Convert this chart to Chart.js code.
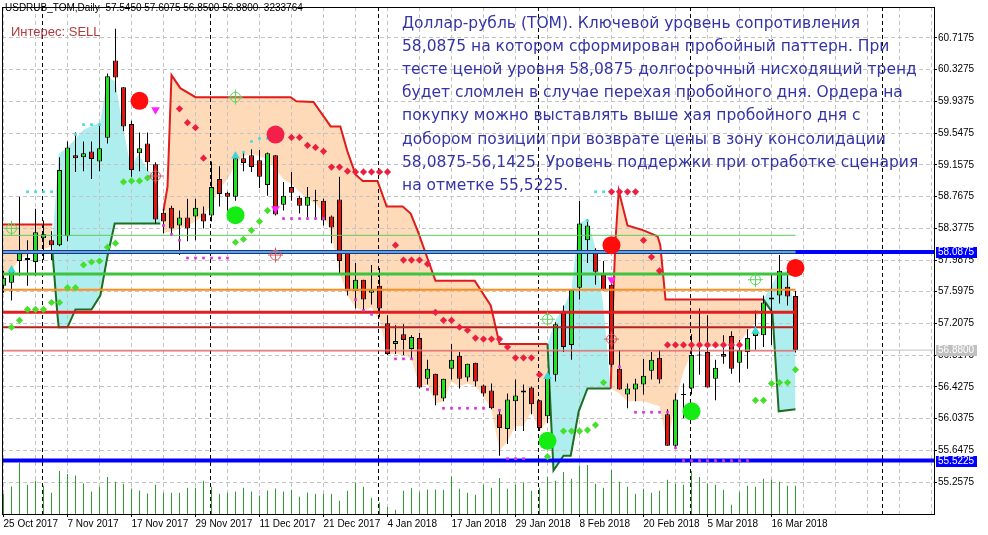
<!DOCTYPE html>
<html lang="ru">
<head>
<meta charset="utf-8">
<title>USDRUB_TOM, Daily</title>
<script src="https://cdn.jsdelivr.net/npm/chart.js@4.4.0/dist/chart.umd.min.js"></script>
<style>
  html, body { margin: 0; padding: 0; background: #fff; }
  #chart { display: block; }
</style>
</head>
<body>
<canvas id="chart" width="988" height="535"></canvas>
<script>
// --- ось времени: подпись на каждом 8-м баре ---
const dateLabels = ['25 Oct 2017', '7 Nov 2017', '17 Nov 2017', '29 Nov 2017', '11 Dec 2017', '21 Dec 2017',
  '4 Jan 2018', '17 Jan 2018', '29 Jan 2018', '8 Feb 2018', '20 Feb 2018', '5 Mar 2018', '16 Mar 2018'];
const monthStarts = [5, 26, 47, 67, 86, 110];
const priceTicks = [55.2575, 55.6475, 56.0375, 56.4275, 56.8175, 57.2075, 57.5975, 57.9875,
  58.3775, 58.7675, 59.1575, 59.5475, 59.9375, 60.3275, 60.7175];

// --- свечи ---
const opens = [57.672, 57.708, 57.975, 58.012, 57.963, 58.255, 58.23, 58.17, 58.279, 59.275,
  59.25, 59.32, 59.20, 59.49, 60.44, 60.11, 59.66, 59.30, 59.42, 59.166,
  58.57, 58.631, 58.412, 58.51, 58.522, 58.559, 58.534, 58.984, 58.814, 58.765,
  59.24, 59.275, 59.215, 58.91, 59.275, 58.668, 58.886, 58.753, 58.656, 58.716,
  58.716, 58.522, 58.73, 58.085, 57.611, 57.745, 57.586, 57.672, 57.21, 56.955,
  57.076, 56.894, 57.028, 56.529, 56.59, 56.286, 56.651, 56.809, 56.542, 56.724,
  56.444, 56.384, 56.092, 55.91, 56.25, 56.359, 56.42, 56.262, 56.068, 56.578,
  57.356, 56.943, 57.647, 58.23, 58.072, 57.805, 57.684, 56.651, 56.335, 56.396,
  56.457, 56.627, 56.785, 56.092, 55.703, 56.335, 56.408, 56.821, 56.858, 56.529,
  56.833, 57.052, 56.724, 56.858, 57.052, 57.064, 57.526, 57.55, 57.66, 57.545];
const highs = [57.854, 57.914, 58.765, 58.23, 58.619, 58.473, 58.34, 59.25, 59.445, 59.555,
  59.445, 59.445, 59.65, 60.28, 60.83, 60.11, 59.70, 59.555, 59.555, 59.19,
  58.619, 58.656, 58.595, 58.74, 58.74, 58.644, 59.20, 59.14, 58.826, 59.29,
  59.32, 59.35, 59.34, 59.31, 59.275, 58.947, 59.07, 58.777, 58.886, 58.85,
  58.74, 58.534, 59.01, 58.085, 57.951, 57.745, 57.927, 57.89, 57.307, 57.186,
  57.198, 57.064, 57.089, 56.76, 56.59, 56.529, 56.955, 56.858, 56.712, 56.724,
  56.457, 56.469, 56.153, 56.347, 56.517, 56.457, 56.432, 56.262, 56.59, 57.222,
  57.429, 57.623, 58.716, 58.485, 58.133, 57.975, 57.708, 56.882, 56.469, 56.529,
  56.772, 56.858, 56.882, 56.153, 56.347, 56.469, 57.076, 57.392, 57.307, 56.76,
  57.064, 57.113, 57.003, 57.137, 57.368, 57.55, 57.805, 58.048, 57.866, 57.6075];
const lows = [57.586, 57.489, 57.793, 57.672, 57.793, 57.987, 57.987, 58.157, 58.218, 59.07,
  59.08, 58.984, 59.08, 59.42, 60.05, 59.57, 59.01, 59.08, 59.08, 58.437,
  58.316, 58.316, 58.048, 58.218, 58.23, 58.376, 58.461, 58.644, 58.595, 58.716,
  59.08, 59.07, 58.874, 58.777, 58.534, 58.595, 58.716, 58.559, 58.51, 58.497,
  58.412, 58.194, 57.805, 57.55, 57.392, 57.368, 57.44, 57.283, 56.821, 56.833,
  56.821, 56.772, 56.408, 56.457, 56.201, 56.25, 56.517, 56.408, 56.493, 56.432,
  56.31, 56.153, 55.582, 55.727, 55.885, 55.885, 56.092, 55.885, 55.983, 56.493,
  56.858, 56.76, 57.501, 57.951, 57.684, 57.611, 56.675, 56.396, 56.165, 56.25,
  56.335, 56.517, 56.469, 55.703, 55.667, 56.043, 56.335, 56.578, 56.42, 56.262,
  56.712, 56.59, 56.481, 56.651, 56.882, 56.918, 56.943, 57.453, 57.429, 56.85];
const closes = [57.769, 57.854, 58.072, 57.987, 58.328, 58.303, 58.17, 59.093, 59.37, 59.24,
  59.30, 59.23, 59.36, 60.247, 60.23, 59.63, 59.093, 59.36, 59.19, 58.485,
  58.461, 58.376, 58.51, 58.376, 58.631, 58.461, 58.886, 58.80, 58.765, 59.24,
  59.18, 59.13, 59.01, 59.30, 58.546, 58.777, 58.814, 58.656, 58.765, 58.716,
  58.473, 58.388, 57.975, 57.611, 57.745, 57.501, 57.623, 57.392, 56.833, 56.991,
  57.003, 57.04, 56.42, 56.651, 56.323, 56.529, 56.76, 56.529, 56.712, 56.493,
  56.347, 56.165, 55.922, 56.274, 56.323, 56.384, 56.214, 55.922, 56.566, 57.198,
  56.918, 57.623, 58.437, 58.412, 57.842, 57.623, 56.70, 56.396, 56.408, 56.469,
  56.566, 56.76, 56.517, 55.703, 56.274, 56.335, 56.821, 56.821, 56.42, 56.663,
  56.797, 56.651, 56.882, 57.028, 57.125, 57.465, 57.501, 57.854, 57.538, 56.88];
// тиковый объём (относительные единицы)
const volumes = [60, 83, 155, 88, 100, 85, 64, 130, 121, 116,
  92, 68, 82, 112, 97, 91, 77, 71, 62, 88,
  64, 64, 64, 79, 79, 100, 82, 61, 64, 68,
  79, 68, 56, 71, 77, 68, 73, 52, 65, 61,
  61, 61, 40, 70, 94, 82, 49, 35, 21, 13,
  70, 78, 67, 74, 74, 73, 113, 76, 64, 58,
  88, 79, 109, 76, 88, 94, 70, 79, 112, 100,
  127, 106, 145, 148, 91, 79, 133, 97, 82, 61,
  76, 64, 70, 103, 91, 88, 130, 112, 91, 88,
  73, 28, 67, 85, 82, 106, 103, 97, 85, 85];

// --- индикатор: линии стопа [бар, цена] и границы заливки ---
const sellStopA = [[-0.1875, 58.425], [6.1, 58.425]];
const sellEdgeA = [[-0.1875, 57.817], [1, 57.86], [2, 58.0], [4, 58.1], [6.1, 58.15]];
const buyStopB = [[6.1, 58.109], [6.75, 57.307], [6.9, 57.16], [8.0, 57.16], [9.0, 57.38], [11.0, 57.38],
  [12.1, 57.55], [13.0, 58.036], [13.9, 58.437], [19.6, 58.437]];
const buyEdgeB = [[6.1, 58.2], [6.9, 59.29], [8.0, 59.37], [10.0, 59.59], [12.1, 59.68], [13.0, 60.24],
  [14.0, 60.18], [14.8, 59.69], [15.9, 59.13], [16.9, 59.29], [18.0, 59.09], [19.0, 59.03], [19.6, 58.44]];
const sellStopC = [[20.0, 58.595], [20.5, 58.886], [21.0, 60.26], [21.25, 60.223], [22.1, 60.10], [24.0, 59.99],
  [35.9, 59.99], [36.6, 59.94], [38.75, 59.93], [40.9, 59.63], [42.1, 59.63], [43.0, 59.32], [44.0, 59.04],
  [44.9, 58.96], [46.75, 58.96], [47.9, 58.644], [49.9, 58.644], [50.9, 58.559], [51.75, 58.352],
  [54.0, 57.732], [58.9, 57.732], [60.9, 57.429], [61.75, 57.064], [62.0, 56.955], [68.0, 56.955]];
const sellEdgeC = [[20, 58.316], [21, 58.34], [22, 58.376], [23, 58.412], [24, 58.461], [25, 58.534],
  [26, 58.68], [27, 58.862], [28, 58.984], [29, 59.166], [30, 59.263], [31, 59.29], [32, 59.263],
  [33, 59.227], [34, 59.105], [35, 58.984], [36, 58.923], [37, 58.826], [38, 58.74], [39, 58.68],
  [40, 58.559], [41, 58.3], [42, 57.83], [43, 57.55], [44, 57.404], [45, 57.368], [46, 57.404],
  [47, 57.247], [48, 56.833], [49, 56.833], [50, 56.821], [51, 56.772], [52, 56.432], [53, 56.457],
  [54, 56.226], [55, 56.25], [56, 56.493], [57, 56.432], [58, 56.469], [59, 56.432], [60, 56.31],
  [61, 56.153], [62, 55.642], [63, 55.76], [64, 55.946], [65, 55.946], [66, 56.128], [67, 55.885], [68, 56.007]];
const buyStopD = [[68.0, 56.955], [68.75, 55.40], [70.0, 55.582], [70.9, 55.582], [71.9, 56.128],
  [73.0, 56.408], [75.9, 56.408]];
const buyEdgeD = [[68.0, 56.955], [69, 57.246], [70, 57.404], [71, 57.623], [71.9, 58.437], [73, 58.497],
  [74, 58.133], [75, 57.404], [75.9, 56.408]];
const sellStopE = [[75.9, 56.408], [76.25, 57.623], [76.5, 58.23], [76.9, 58.838], [78.0, 58.412],
  [80.0, 58.352], [81.75, 58.279], [82.1, 58.17], [82.75, 57.501], [95.0, 57.501]];
const sellEdgeE = [[75.9, 56.408], [77, 56.347], [78, 56.25], [80, 56.25], [82, 56.189], [83, 55.703],
  [84, 56.25], [85, 56.614], [86, 56.858], [87, 56.918], [90, 56.918], [92, 56.979], [94, 57.222], [95, 57.501]];
const buyStopF = [[95.0, 57.501], [96.1, 57.344], [96.25, 57.137], [96.9, 56.128], [99.0, 56.153]];
const buyEdgeF = [[95.0, 57.501], [96.9, 57.83], [98, 57.854], [98.75, 57.45], [99, 57.3]];

// --- значки индикаторов [бар, цена] ---
const redDiamonds = [[22, 59.846], [23, 59.676], [24, 59.615], [25, 59.239],
  [36, 59.494], [37, 59.494], [38, 59.397], [39, 59.372], [40, 59.324], [41, 59.13], [42, 59.13],
  [43, 59.08], [44, 59.07], [45, 59.07], [46, 59.07], [47, 59.07], [48, 59.07],
  [49, 58.17], [50, 57.987], [51, 57.987], [52, 57.987], [53, 57.939], [54, 57.344], [55, 57.246],
  [56, 57.246], [57, 57.161], [58, 57.125], [59, 57.028], [60, 57.015], [61, 57.015], [62, 57.015],
  [63, 56.918], [64, 56.785], [65, 56.785], [66, 56.785], [67, 56.578],
  [76, 58.826], [77, 58.826], [78, 58.826], [79, 58.826], [80, 58.23], [81, 58.024], [82, 57.854],
  [83, 56.943], [84, 56.943], [85, 56.943], [86, 56.943], [87, 56.943], [88, 56.943], [89, 56.943],
  [90, 56.943], [91, 56.943], [92, 56.943]];
const greenDiamonds = [[1, 57.161], [2, 57.246], [3, 57.38], [4, 57.38], [5, 57.38], [6, 57.465],
  [7, 57.465], [8, 57.647], [9, 57.647], [10, 57.927], [11, 57.963], [12, 57.975], [13, 58.145],
  [14, 58.194], [15, 58.947], [16, 58.96], [17, 58.96], [18, 58.996],
  [29, 58.206], [30, 58.243], [31, 58.352], [32, 58.461], [33, 58.595],
  [68, 55.57], [70, 55.885], [71, 55.885], [72, 55.885], [73, 55.897], [74, 55.958], [75, 56.481],
  [94, 56.262], [95, 56.262], [96, 56.469], [97, 56.481], [98, 56.481], [99, 56.639]];
const magentaDots = [[20, 58.412], [21, 58.303], [22, 58.23], [23, 58.012], [24, 58.012], [25, 58.012],
  [26, 58.012], [27, 58.012], [28, 58.012],
  [35, 58.497], [36, 58.497], [37, 58.497], [38, 58.497], [39, 58.497], [40, 58.497],
  [44, 57.501], [45, 57.368], [46, 57.32], [49, 56.772], [50, 56.772], [51, 56.772], [53, 56.396],
  [55, 56.165], [56, 56.165], [57, 56.165], [58, 56.165], [59, 56.165], [60, 56.165], [62, 56.141],
  [63, 55.545], [64, 55.545], [65, 55.545],
  [77, 56.675], [79, 56.116], [80, 56.116], [81, 56.116], [82, 56.116], [83, 56.116], [84, 55.679],
  [85, 55.521], [86, 55.521], [87, 55.521], [88, 55.521], [89, 55.521], [90, 55.521], [91, 55.521],
  [92, 55.521], [93, 55.521]];
const cyanDots = [[3, 58.826], [4, 58.826], [5, 58.826], [6, 58.826], [9, 59.53], [10, 59.652],
  [11, 59.652], [12, 59.652], [30, 59.312], [31, 59.445], [32, 59.482], [33, 59.482],
  [73, 58.473], [74, 58.826], [75, 58.826]];
const sellSignals = [[17, 59.944], [34, 59.53], [76, 58.17], [99, 57.89]];
const buySignals = [[29, 58.538], [68, 55.764], [86, 56.128]];
const downArrows = [[19, 59.834], [34, 58.619], [76, 57.745]];
const upArrows = [[1, 57.866], [29, 59.267], [68, 56.554], [94, 57.113]];
const buyTargets = [[1, 58.376], [29, 59.99], [68, 57.259], [94, 57.745]];
const sellTargets = [[19, 59.02], [34, 58.048], [76, 57.015]];

// --- горизонтальные уровни ---
const levelPrices  = [58.291, 58.0875, 58.0875, 58.0875, 57.817, 57.623, 57.344, 57.161, 56.88, 56.87, 55.5225];
const levelLastBar = [99,     null,    99,      99,      99,     99,     99,     99,     null,  99,    null];
const priceFlags = [58.0875, 56.88, 55.5225];

const headerText = 'USDRUB_TOM,Daily  57.5450 57.6075 56.8500 56.8800  3233764';
const interestText = 'Интерес: SELL';
const noteLines = [
  'Доллар-рубль (ТОМ). Ключевой уровень сопротивления',
  '58,0875 на котором сформирован пробойный паттерн. При',
  'тесте ценой уровня 58,0875 долгосрочный нисходящий тренд',
  'будет сломлен в случае перехая пробойного дня. Ордера на',
  'покупку можно выставлять выше хая пробойного дня с',
  'добором позиции при возврате цены в зону консолидации',
  '58,0875-56,1425. Уровень поддержки при отработке сценария',
  'на отметке 55,5225.'
];

// --- оформление ---
const X_MIN = -0.1875, X_MAX = 116.3125;
const Y_MIN = 54.865, Y_MAX = 61.098;
const VOL_MAX = 1530;
const BULL = '#1fe31f', BEAR = '#e3140e';
const PEACH = '#ffdab9', TURQ = '#afeeee';
const levelStyles = [['#5ccc5c', 1], ['#0000ff', 4], ['#20387a', 4], ['#5aa5e8', 2], ['#3cc43c', 3],
  ['#ff8c1a', 2], ['#e31e1e', 3], ['#b52222', 2], ['#c0c0c0', 1], ['#f04848', 1], ['#0000ff', 4]];
const flagColors = ['#0000ff', '#c0c0c0', '#0000ff'];
const signalColors = ['#ff0d0d', '#f2204a', '#ff0d0d', '#ff0d0d'];
const AXIS_FONT = '10px "Liberation Sans"';

const pts = arr => arr.map(([x, y]) => ({ x, y }));
const bars = opens.map((_, i) => i);
const isDoji = i => Math.abs(opens[i] - closes[i]) < 0.005;

const datasets = [];

function addBand(stop, edge, lineColor, fillColor) {
  datasets.push({ type: 'line', data: pts(stop), borderColor: lineColor, borderWidth: 2,
    pointRadius: 0, tension: 0, fill: false, order: 80 });
  const target = datasets.length - 1;
  datasets.push({ type: 'line', data: pts(edge), borderColor: 'rgba(0,0,0,0)', borderWidth: 1,
    pointRadius: 0, tension: 0, backgroundColor: fillColor, fill: target, order: 100 });
}
addBand(sellStopA, sellEdgeA, '#e01b1b', PEACH);
addBand(buyStopB, buyEdgeB, '#1c6e22', TURQ);
addBand(sellStopC, sellEdgeC, '#e01b1b', PEACH);
addBand(buyStopD, buyEdgeD, '#1c6e22', TURQ);
addBand(sellStopE, sellEdgeE, '#e01b1b', PEACH);
addBand(buyStopF, buyEdgeF, '#1c6e22', TURQ);

// объём
datasets.push({ type: 'bar', yAxisID: 'yv', data: bars.map(i => ({ x: i, y: volumes[i] })),
  backgroundColor: '#2e9e2e', borderWidth: 0, barThickness: 1, grouped: false, inflateAmount: 0,
  order: 90, regrid: true });

// тени и тела свечей
datasets.push({ type: 'bar', data: bars.map(i => ({ x: i, y: [lows[i], highs[i]] })),
  backgroundColor: '#000', barThickness: 1, grouped: false, inflateAmount: 0, order: 70 });
datasets.push({ type: 'bar',
  data: bars.map(i => ({ x: i, y: isDoji(i) ? [opens[i] - 0.006, opens[i] + 0.006] : [opens[i], closes[i]] })),
  backgroundColor: bars.map(i => isDoji(i) ? '#000' : (closes[i] > opens[i] ? BULL : BEAR)),
  borderColor: '#000', borderWidth: 1, borderSkipped: false, barThickness: 5,
  grouped: false, inflateAmount: 0, order: 60 });

// уровни
levelPrices.forEach((p, k) => {
  datasets.push({ type: 'line', data: [{ x: X_MIN, y: p }, { x: levelLastBar[k] ?? X_MAX, y: p }],
    borderColor: levelStyles[k][0], borderWidth: levelStyles[k][1], pointRadius: 0, fill: false, order: 50 - k * 0.1 });
});

function addMarks(arr, style, radius, fill, stroke, width, order, rotation) {
  datasets.push({ type: 'line', showLine: false, data: pts(arr), pointStyle: style, pointRadius: radius,
    pointRotation: rotation || 0, pointBackgroundColor: fill, pointBorderColor: stroke,
    pointBorderWidth: width, order });
}
addMarks(magentaDots, 'rect', 1.9, '#dd33dd', '#dd33dd', 0, 30);
addMarks(cyanDots, 'rect', 1.9, '#3fdede', '#3fdede', 0, 30);
addMarks(redDiamonds, 'rectRot', 3.6, '#ec1f40', '#ec1f40', 0, 29);
addMarks(greenDiamonds, 'rectRot', 3.6, '#44e02c', '#44e02c', 0, 29);
addMarks(buyTargets, 'circle', 5, 'rgba(0,0,0,0)', '#5ed35e', 1, 25);
addMarks(buyTargets, 'cross', 7.5, 'rgba(0,0,0,0)', '#5ed35e', 1, 25);
addMarks(sellTargets, 'circle', 5, 'rgba(0,0,0,0)', '#dc5a5a', 1, 25);
addMarks(sellTargets, 'cross', 7.5, 'rgba(0,0,0,0)', '#dc5a5a', 1, 25);
addMarks(downArrows, 'triangle', 5, '#ff22ff', '#ff22ff', 0, 24, 180);
addMarks(upArrows, 'triangle', 5, '#3ad8d8', '#3ad8d8', 0, 24);
addMarks(sellSignals, 'circle', 9, signalColors, signalColors, 0, 20);
addMarks(buySignals, 'circle', 9, '#14ec14', '#14ec14', 0, 20);

const overlay = {
  id: 'overlay',
  // сетка и разделители периодов поверх заливки
  beforeDatasetDraw(chart, args) {
    if (!chart.data.datasets[args.index].regrid) return;
    const { ctx, chartArea: a, scales } = chart;
    scales.x.drawGrid(a);
    scales.y.drawGrid(a);
    ctx.save();
    ctx.strokeStyle = '#000';
    ctx.lineWidth = 1;
    ctx.setLineDash([4, 3]);
    monthStarts.forEach(m => {
      const x = Math.floor(scales.x.getPixelForValue(m - 0.125)) + 0.5;
      ctx.beginPath();
      ctx.moveTo(x, a.top);
      ctx.lineTo(x, a.bottom);
      ctx.stroke();
    });
    ctx.restore();
  },
  afterDraw(chart) {
    const { ctx, chartArea: a, scales: { y } } = chart;
    ctx.save();
    ctx.strokeStyle = '#000';
    ctx.lineWidth = 1;
    ctx.strokeRect(a.left + 0.5, a.top + 0.5, a.right - a.left, a.bottom - a.top);

    ctx.font = AXIS_FONT;
    ctx.textAlign = 'left';
    ctx.textBaseline = 'middle';
    priceFlags.forEach((p, k) => {
      const py = Math.round(y.getPixelForValue(p));
      ctx.fillStyle = flagColors[k];
      ctx.fillRect(a.right + 2, py - 5, 41, 11);
      ctx.fillStyle = '#fff';
      ctx.fillText(p.toFixed(4), a.right + 4, py + 0.5);
    });

    ctx.fillStyle = '#000';
    ctx.fillText(headerText, 5, 8);
    ctx.font = '13px "Liberation Sans"';
    ctx.fillStyle = '#b23c3c';
    ctx.fillText(interestText, 11, 32);

    ctx.font = '15.5px "DejaVu Sans"';
    ctx.fillStyle = '#3434a6';
    noteLines.forEach((t, k) => ctx.fillText(t, 402, 24 + k * 23.1));
    ctx.restore();
  }
};

new Chart(document.getElementById('chart').getContext('2d'), {
  type: 'bar',
  data: { datasets },
  options: {
    responsive: false,
    animation: false,
    events: [],
    devicePixelRatio: 1,
    layout: { autoPadding: false, padding: { left: 2, top: 1, right: 0, bottom: 0 } },
    plugins: { legend: { display: false }, tooltip: { enabled: false } },
    scales: {
      x: {
        type: 'linear', min: X_MIN, max: X_MAX, offset: false,
        afterBuildTicks: s => { s.ticks = Array.from({ length: 30 }, (_, k) => ({ value: k * 4 })); },
        afterFit: s => { s.height = 21; },
        ticks: {
          autoSkip: false, maxRotation: 0, minRotation: 0, align: 'start', padding: 1, color: '#000',
          font: { family: 'Liberation Sans', size: 10 },
          callback: v => (v % 8 === 0 && v / 8 < dateLabels.length) ? dateLabels[v / 8] : ''
        },
        grid: {
          offset: false, color: '#c4c4c4', lineWidth: 1, tickLength: 3,
          tickColor: c => (c.tick && c.tick.value % 8 === 0 && c.tick.value / 8 < dateLabels.length) ? '#000' : 'rgba(0,0,0,0)'
        },
        border: { display: false, dash: [4, 3] }
      },
      y: {
        position: 'right', min: Y_MIN, max: Y_MAX,
        afterBuildTicks: s => { s.ticks = priceTicks.map(v => ({ value: v })); },
        afterFit: s => { s.width = 54; },
        ticks: { autoSkip: false, padding: 1, color: '#000', font: { family: 'Liberation Sans', size: 10 },
          callback: v => v.toFixed(4) },
        grid: { color: '#c4c4c4', lineWidth: 1, tickLength: 3, tickColor: '#000' },
        border: { display: false, dash: [4, 3] }
      },
      yv: { display: false, min: 0, max: VOL_MAX }
    }
  },
  plugins: [overlay]
});
</script>
</body>
</html>
